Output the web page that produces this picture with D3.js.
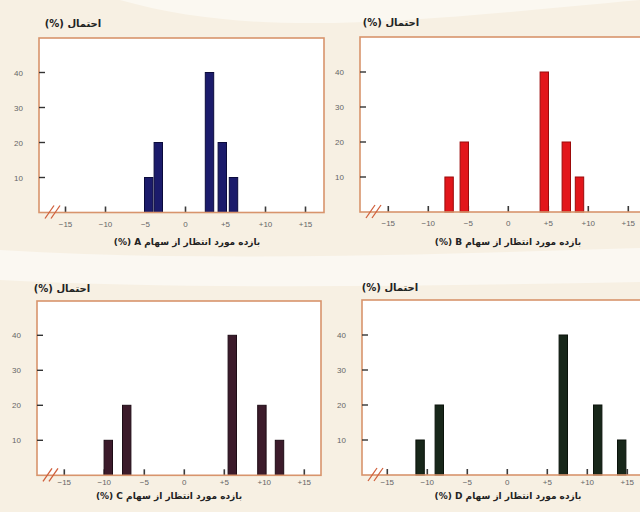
<!DOCTYPE html>
<html><head><meta charset="utf-8">
<script src="https://cdn.jsdelivr.net/npm/d3@7"></script>
<style>
html,body{margin:0;padding:0;background:#f7f0e3;}
svg{display:block;}
</style></head>
<body>
<svg id="chart" width="640" height="512"></svg>
<script>
// ---- data ----
const panelNames = ["A", "B", "C", "D"];
const returnsA = [-4.6, -3.4, 3.0, 4.6, 6.0];
const returnsB = [-7.4, -5.5, 4.5, 7.25, 8.9];
const returnsC = [-9.5, -7.2, 6.0, 9.7, 11.9];
const returnsD = [-10.9, -8.5, 7.0, 11.3, 14.3];
const probabilities = [10, 20, 40, 20, 10];
const xTickValues = [-15, -10, -5, 0, 5, 10, 15];
const xTickLabels = ["\u221215", "\u221210", "\u22125", "0", "+5", "+10", "+15"];
const yTickValues = [10, 20, 30, 40];
const yTitle = "احتمال (%)";
const xTitlePrefix = "بازده مورد انتظار از سهام";
const barColors = ["#1b1b6b", "#e2161b", "#3c1b2b", "#18271a"];
const barStrokes = ["#0b0b3c", "#9c0a0a", "#1e0c16", "#0a130b"];

const allReturns = [returnsA, returnsB, returnsC, returnsD];

// layout of each panel (frame box + zero position)
const layouts = [
  {left: 39, right: 324, top: 38, bottom: 212.5, zero: 185.5, titleX: 73, titleY: 27, labelX: 187, labelY: 245, tickOff: 14},
  {left: 360, right: 643, top: 37, bottom: 212, zero: 508.3, titleX: 391, titleY: 26, labelX: 508, labelY: 245, tickOff: 14},
  {left: 37, right: 321, top: 301, bottom: 475.3, zero: 184.3, titleX: 62, titleY: 292, labelX: 169, labelY: 499, tickOff: 10},
  {left: 362, right: 643, top: 300, bottom: 475, zero: 507.3, titleX: 390, titleY: 291, labelX: 508, labelY: 499, tickOff: 10}
];

const svg = d3.select("#chart");

// faint watermark swoosh
svg.append("path")
  .attr("d", "M120,0 C260,40 420,20 640,0 L640,0 Z")
  .attr("fill", "#fbf8f1");
svg.append("path")
  .attr("d", "M0,250 C200,262 420,255 640,248 L640,282 C420,286 200,290 0,280 Z")
  .attr("fill", "#fbf8f2");

panelNames.forEach((name, i) => {
  const L = layouts[i];
  const data = allReturns[i].map((r, j) => ({r: r, p: probabilities[j]}));
  const x = d3.scaleLinear().domain([-15, 15]).range([L.zero - 120, L.zero + 120]);
  const y = d3.scaleLinear().domain([0, 40]).range([L.bottom, L.bottom - 140]);
  const g = svg.append("g");

  // plot area
  g.append("rect")
    .attr("x", L.left).attr("y", L.top)
    .attr("width", L.right - L.left).attr("height", L.bottom - L.top)
    .attr("fill", "#ffffff");

  // baseline tick marks
  g.selectAll(".xt").data(xTickValues).enter().append("line")
    .attr("x1", d => x(d)).attr("x2", d => x(d))
    .attr("y1", L.bottom - 6).attr("y2", L.bottom)
    .attr("stroke", "#3a3a3a").attr("stroke-width", 1.6);

  // bars
  const bw = 8.4;
  g.selectAll(".bar").data(data).enter().append("rect")
    .attr("x", d => x(d.r) - bw / 2)
    .attr("y", d => y(d.p))
    .attr("width", bw)
    .attr("height", d => y(0) - y(d.p))
    .attr("fill", barColors[i])
    .attr("stroke", barStrokes[i])
    .attr("stroke-width", 1);

  // frame
  g.append("rect")
    .attr("x", L.left).attr("y", L.top)
    .attr("width", L.right - L.left).attr("height", L.bottom - L.top)
    .attr("fill", "none")
    .attr("stroke", "#d8946c").attr("stroke-width", 1.6);

  // y axis ticks (inward)
  g.selectAll(".yt").data(yTickValues).enter().append("line")
    .attr("x1", L.left).attr("x2", L.left + 6)
    .attr("y1", d => y(d)).attr("y2", d => y(d))
    .attr("stroke", "#333").attr("stroke-width", 1.4);
  g.selectAll(".yl").data(yTickValues).enter().append("text")
    .attr("x", L.left - 16).attr("y", d => y(d) + 3)
    .attr("text-anchor", "end")
    .attr("font-family", "Liberation Sans, Arial, sans-serif")
    .attr("font-size", 8).attr("fill", "#666")
    .text(d => d);

  // x tick labels
  g.selectAll(".xl").data(xTickValues).enter().append("text")
    .attr("x", d => x(d)).attr("y", L.bottom + L.tickOff)
    .attr("text-anchor", "middle")
    .attr("font-family", "Liberation Sans, Arial, sans-serif")
    .attr("font-size", 8).attr("fill", "#666")
    .text((d, k) => xTickLabels[k]);

  // axis break mark
  [0, 6].forEach(off => {
    g.append("line")
      .attr("x1", L.left + 6 + off).attr("y1", L.bottom + 6)
      .attr("x2", L.left + 15 + off).attr("y2", L.bottom - 7)
      .attr("stroke", "#d0603c").attr("stroke-width", 1.3);
  });

  // y title
  g.append("text")
    .attr("x", L.titleX).attr("y", L.titleY)
    .attr("direction", "rtl").attr("unicode-bidi", "embed")
    .attr("text-anchor", "middle")
    .attr("font-family", "DejaVu Sans, sans-serif")
    .attr("font-weight", "bold").attr("font-size", 10)
    .attr("fill", "#222")
    .text(yTitle);

  // x title
  g.append("text")
    .attr("x", L.labelX).attr("y", L.labelY)
    .attr("direction", "rtl").attr("unicode-bidi", "embed")
    .attr("text-anchor", "middle")
    .attr("font-family", "DejaVu Sans, sans-serif")
    .attr("font-weight", "bold").attr("font-size", 9)
    .attr("fill", "#222")
    .text(xTitlePrefix + " " + name + " (%)");
});
</script>
</body></html>
